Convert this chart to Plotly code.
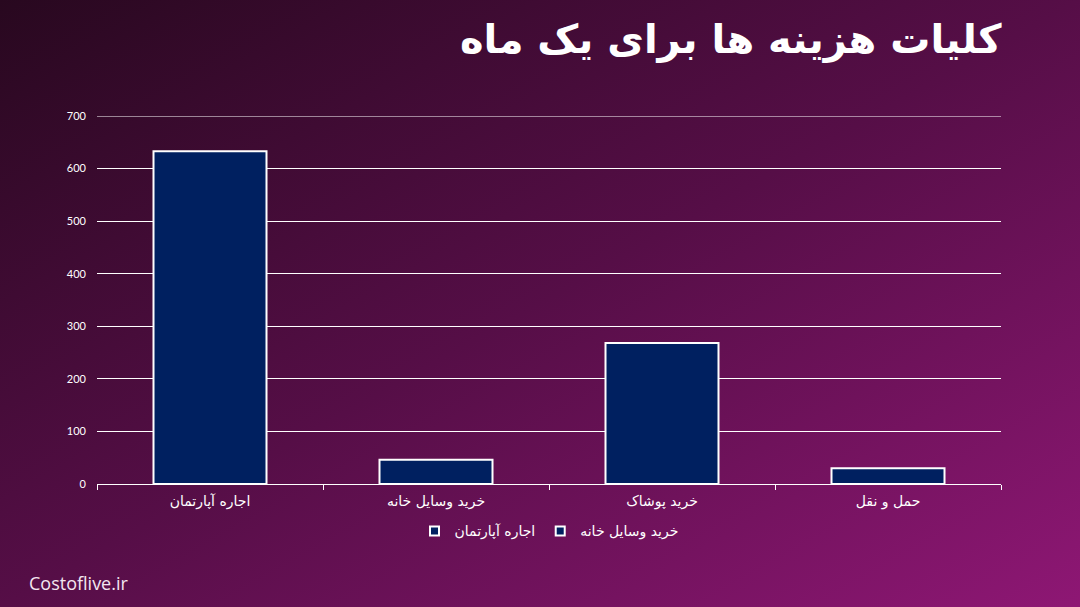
import base64
import plotly.graph_objects as go

categories = ["اجاره آپارتمان", "خرید وسایل خانه", "خرید پوشاک", "حمل و نقل"]
values = [633, 46, 268, 30]
legend_labels = ["اجاره آپارتمان", "خرید وسایل خانه"]
y_ticks = [0, 100, 200, 300, 400, 500, 600, 700]
title_text = "کلیات هزینه ها برای یک ماه"
watermark = "Costoflive.ir"

W, H = 1080, 607
ml, mr, mt, mb = 97, 79, 116, 123
pw, ph = W - ml - mr, H - mt - mb

svg = (
    '<svg xmlns="http://www.w3.org/2000/svg" width="1080" height="607" preserveAspectRatio="none">'
    '<defs><linearGradient id="g" x1="0" y1="0" x2="1" y2="1">'
    '<stop offset="0" stop-color="#28081f"/>'
    '<stop offset="0.5" stop-color="#560e47"/>'
    '<stop offset="1" stop-color="#8e1774"/>'
    '</linearGradient></defs>'
    '<rect width="1080" height="607" fill="url(#g)"/></svg>'
)
src = "data:image/svg+xml;base64," + base64.b64encode(svg.encode()).decode()

fig = go.Figure()
fig.add_trace(go.Bar(
    x=categories, y=values,
    marker=dict(color="#002060", line=dict(color="white", width=2)),
    showlegend=False,
))
for name in legend_labels:
    fig.add_trace(go.Scatter(
        x=[None], y=[None], mode="markers", name=name,
        marker=dict(symbol="square", size=9, color="#002060",
                    line=dict(color="white", width=2)),
    ))

fig.update_layout(
    width=W, height=H,
    margin=dict(l=ml, r=mr, t=mt, b=mb),
    paper_bgcolor="#3a0b30",
    plot_bgcolor="rgba(0,0,0,0)",
    bargap=0.5,
    font=dict(family="DejaVu Sans", color="white"),
    images=[dict(
        source=src, xref="paper", yref="paper",
        x=-ml / pw, y=1 + mt / ph, sizex=W / pw, sizey=H / ph,
        xanchor="left", yanchor="top", sizing="stretch", layer="below",
    )],
    shapes=[dict(
        type="line", xref="paper", yref="y", x0=0, x1=1,
        y0=y_ticks[-1], y1=y_ticks[-1], line=dict(color="white", width=1),
        layer="below",
    )],
    xaxis=dict(
        showline=True, linecolor="white", linewidth=1,
        ticks="outside", tickson="boundaries", tickcolor="white", ticklen=5,
        tickfont=dict(size=14, color="white", family="DejaVu Sans"),
        showgrid=False, ticklabelstandoff=4,
    ),
    yaxis=dict(
        range=[0, 700], tickvals=y_ticks,
        showgrid=True, gridcolor="white", gridwidth=1,
        zeroline=False, showline=False,
        tickfont=dict(size=11, color="white", family="Lato"),
        ticks="", ticklabelstandoff=10,
    ),
    legend=dict(
        orientation="h", x=0.5, xanchor="center", y=-0.085, yanchor="top",
        font=dict(size=14, color="white", family="DejaVu Sans"),
        bgcolor="rgba(0,0,0,0)", itemwidth=30, traceorder="normal",
    ),
    annotations=[
        dict(text="<b>" + title_text + "</b>", xref="paper", yref="paper",
             x=1 + 3 / pw, y=1 + 76 / ph, xanchor="right", yanchor="middle",
             showarrow=False, font=dict(size=40, color="white", family="DejaVu Sans")),
        dict(text=watermark, xref="paper", yref="paper",
             x=-70 / pw, y=-99 / ph, xanchor="left", yanchor="middle",
             showarrow=False, font=dict(size=18, color="#f4e6f0", family="Open Sans")),
    ],
)

fig.write_html("out.html")
